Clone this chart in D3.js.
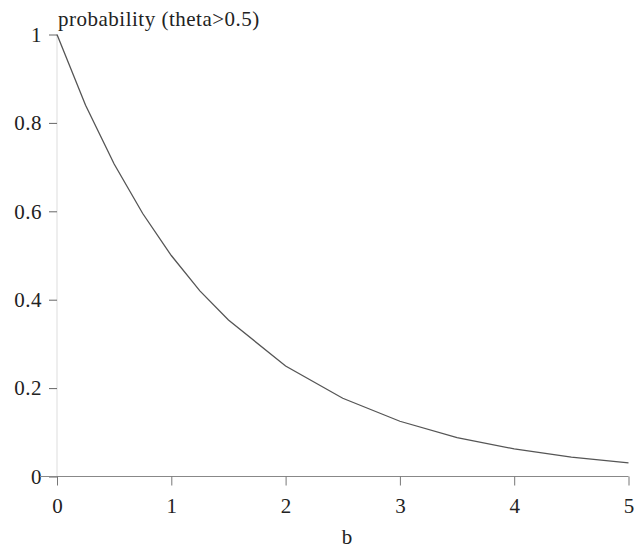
<!DOCTYPE html>
<html><head><meta charset="utf-8">
<script src="https://cdn.jsdelivr.net/npm/d3@7"></script>
<style>body{margin:0;background:#fff}svg{display:block}</style>
</head><body>
<svg id="c" width="634" height="550"></svg>
<script>
const bValues = [0, 0.25, 0.5, 0.75, 1, 1.25, 1.5, 2, 2.5, 3, 3.5, 4, 4.5, 5];
const probValues = [1, 0.84, 0.707, 0.595, 0.5, 0.42, 0.354, 0.25, 0.177, 0.125, 0.088, 0.0625, 0.044, 0.031];
const xTicks = [0, 1, 2, 3, 4, 5];
const yTicks = [0, 0.2, 0.4, 0.6, 0.8, 1];
const yTickLabels = ["0", "0.2", "0.4", "0.6", "0.8", "1"];
const yTitle = "probability (theta>0.5)";
const xTitle = "b";

const svg = d3.select("#c");
const font = "'Liberation Serif', 'Times New Roman', serif";
const fs = 21, ls = 0.5;
const x = d3.scaleLinear().domain([0, 5]).range([57, 628.5]);
const y = d3.scaleLinear().domain([0, 1]).range([476.5, 34.5]);

// y axis
const ya = svg.append("g").attr("transform", `translate(${x(0)},0)`)
  .call(d3.axisLeft(y).tickValues(yTicks).tickSize(8).tickPadding(7)
    .tickFormat((d, i) => yTickLabels[i]));
ya.select(".domain").attr("stroke", "#bbb").attr("stroke-dasharray", "1,1").attr("d", `M0,${y(0)}V${y(1)}`);
ya.selectAll(".tick line").attr("stroke", "#666");
ya.selectAll(".tick text").attr("font-family", font).attr("font-size", fs).attr("letter-spacing", ls).attr("fill", "#222");

// x axis
const xa = svg.append("g").attr("transform", `translate(0,${y(0)})`)
  .call(d3.axisBottom(x).tickValues(xTicks).tickSize(9).tickPadding(13).tickFormat(d3.format("d")));
xa.select(".domain").attr("stroke", "#888").attr("d", `M40,0H${x(5)}`);
xa.selectAll(".tick line").attr("stroke", "#777");
xa.selectAll(".tick text").attr("font-family", font).attr("font-size", fs).attr("fill", "#222");

// curve
const data = bValues.map((b, i) => ({b, p: probValues[i]}));
svg.append("path").datum(data)
  .attr("fill", "none").attr("stroke", "#555").attr("stroke-width", 1.3)
  .attr("d", d3.line().x(d => x(d.b)).y(d => y(d.p)));

// titles
svg.append("text").attr("x", 58).attr("y", 26).attr("font-family", font).attr("font-size", fs).attr("letter-spacing", ls).attr("fill", "#222").text(yTitle);
svg.append("text").attr("x", 347).attr("y", 544).attr("text-anchor", "middle").attr("font-family", font).attr("font-size", fs).attr("fill", "#222").text(xTitle);
</script>
</body></html>
